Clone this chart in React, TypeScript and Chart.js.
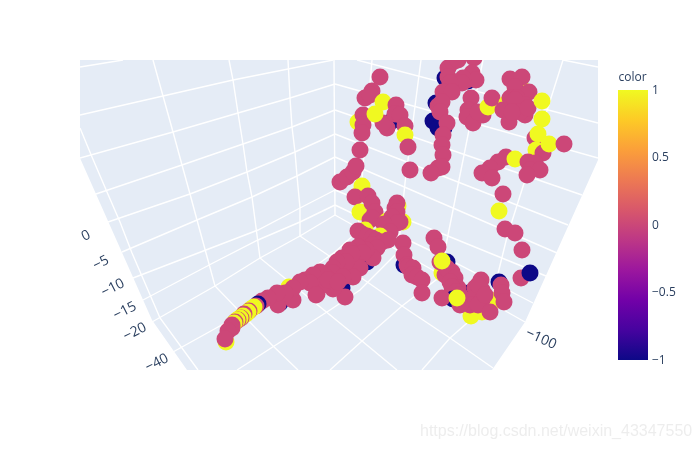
import React, { useEffect, useRef } from "react";
import { Chart, registerables } from "chart.js";

Chart.register(...registerables);

type Pt = [number, number];
type Mark = [number, number, number];

const paneOutline: Pt[] = [[80,60],[598,60],[598,160],[525,322],[492,370],[187,370],[152,320],[80,158],[80,60]];

const leftWallRows: Pt[][] = [
  [[80,67],[123,60]],
  [[80,115],[163,96],[233,80],[333,60]],
  [[80,158],[173,132],[238,113],[290,98],[335,84]],
  [[93,195],[182,165],[243,144],[292,127],[335,110]],
  [[108,222],[190,194],[247,172],[295,152],[335,134]],
  [[122,252],[197,220],[252,197],[297,176],[335,157]],
  [[133,278],[258,230],[300,208],[335,190]],
  [[143,300],[213,263],[258,240],[300,222],[335,205]],
  [[152,322],[215,286],[260,258],[300,236],[335,215]],
];
const rightWallRows: Pt[][] = [
  [[563,60],[598,67]],
  [[357,60],[598,123]],
  [[335,84],[598,158]],
  [[335,110],[582,195]],
  [[335,134],[568,225]],
  [[335,157],[557,253]],
  [[335,190],[546,276]],
  [[335,205],[450,260],[533,303]],
  [[335,215],[525,322]],
];
const leftColumns: Pt[][] = [
  [[80,128],[92,157],[107,192],[120,222],[132,253],[160,318],[198,370]],
  [[153,60],[163,96],[173,132],[182,165],[190,194],[197,220],[215,286],[272,345],[298,370]],
  [[229,60],[233,80],[238,113],[243,144],[247,172],[252,197],[260,258],[330,315],[362,341],[397,370]],
  [[288,60],[290,98],[292,127],[295,152],[297,176],[300,208],[300,236],[360,277],[402,306],[450,338],[493,368]],
  [[334,60],[335,215]],
];
const rightColumns: Pt[][] = [
  [[372,60],[363,167],[358,231],[335,252],[272,297],[173,352]],
  [[421,60],[405,183],[398,252],[360,290],[330,310],[237,370]],
  [[483,60],[447,240],[441,276],[402,306],[362,341],[330,370]],
  [[563,60],[507,237],[491,302],[450,338],[422,370]],
];

// Markers in draw order: [x, y, colour value]
const upperLeftCluster: Mark[] = [
  [380,77,0],[358,122,1],[372,91,0],[365,98,0],[370,95,0],[363,115,0],[363,125,0],[362,133,0],
  [392,121,-1],[387,128,0],[383,123,0],[383,102,1],[375,114,1],[396,105,0],[395,114,0],[400,115,0],
  [405,126,0],[405,135,1],[408,147,0],[360,150,0],[410,170,0],
];
const centreColumn: Mark[] = [
  [445,78,-1],[436,103,-1],[433,121,-1],[438,128,-1],[444,128,-1],[448,68,0],[453,62,0],[458,60,0],
  [448,77,0],[450,83,0],[443,92,0],[452,92,0],[438,106,0],[442,102,0],[440,112,0],[447,123,0],[443,135,0],
  [442,145,0],[443,155,0],[438,168,0],[442,167,0],[431,173,0],
];
const upperMiddle: Mark[] = [
  [474,58,0],[468,81,-1],[467,80,0],[472,73,0],[476,80,0],[463,78,0],[462,83,0],[471,98,0],[468,110,0],[467,117,0],
  [473,123,0],[483,115,0],[478,112,0],[488,107,1],[492,98,0],
];
const upperRightCluster: Mark[] = [
  [507,103,1],[515,92,1],[523,90,1],[510,79,0],[522,77,0],[515,87,0],[529,92,0],[503,110,0],[510,98,0],
  [517,98,0],[525,105,0],[518,108,0],[525,115,0],[509,122,0],[515,100,0],[520,112,0],[512,112,0],[528,108,0],
  [542,101,1],[542,119,1],[535,138,0],
  [538,134,1],[536,150,1],[543,153,0],[549,144,1],[564,144,0],
];
const rightBand: Mark[] = [
  [506,157,0],[498,162,0],[490,168,0],[482,173,0],[492,178,0],[515,159,1],[528,162,0],[535,163,0],
  [530,170,0],[540,170,0],[527,175,0],[503,194,0],[499,211,1],[505,229,0],[515,233,0],[522,250,0],
  [521,278,0],[530,273,-1],
];
const lowerRightCluster: Mark[] = [
  [471,316,1],[482,312,1],[465,300,1],[497,300,1],[499,282,-1],[501,285,0],[502,293,0],[504,302,0],
  [469,293,-1],[481,280,0],[475,288,0],[482,290,0],[473,299,0],[482,300,0],[478,285,0],[470,305,0],[478,305,0],[485,295,0],[490,312,0],
  [442,273,1],[447,262,-1],[434,238,0],
  [438,247,0],[440,262,0],[447,268,0],[452,272,0],[445,275,0],[448,270,0],[455,278,0],[450,282,0],[458,288,0],[452,287,0],[456,292,0],[460,295,0],
  [453,299,-1],[442,298,0],
  [460,305,0],[457,298,1],[442,261,1],
];
const lowerMiddleBranch: Mark[] = [
  [404,265,-1],[403,243,0],[404,255,0],[407,265,0],[408,267,0],[413,268,0],[412,275,0],[417,277,0],[422,280,0],[422,293,0],
];
const junctionCluster: Mark[] = [
  [340,182,0],[347,177,0],[353,172,0],[356,166,0],[362,186,1],
  [358,195,1],[355,197,0],[360,212,1],[368,196,0],[372,203,0],[375,212,0],[370,220,0],[372,218,0],
  [387,221,1],[398,206,1],[397,203,0],[403,222,1],[395,208,0],[397,212,0],[400,222,0],[392,217,0],[397,223,0],[384,224,0],[390,232,0],
  [365,230,1],[380,236,1],[358,231,0],[362,234,0],[367,236,0],[372,238,0],[376,240,0],[382,242,0],[388,240,0],
];
const centreStream: Mark[] = [
  [373,249,-1],[353,265,-1],[367,262,-1],[351,276,-1],[342,288,-1],[334,286,1],
  [372,245,0],[377,248,0],[373,258,0],[366,250,0],[358,247,0],[350,250,0],[342,258,0],[355,257,0],[363,253,0],[348,267,0],
  [360,268,0],[342,273,0],[353,277,0],[352,254,0],[346,262,0],[337,262,0],[333,268,0],[333,273,0],[327,278,0],[320,272,0],[313,275,0],[305,280,0],
  [345,297,0],[317,294,0],[333,289,0],[323,285,0],[343,277,0],[328,280,0],[338,282,0],[310,283,0],
];
const tailChain: Mark[] = [
  [289,287,1],[280,303,-1],[278,305,0],[293,300,0],[316,295,0],[300,282,0],[293,288,0],[285,293,0],[277,293,0],[268,298,0],[262,301,0],
  [258,304,-1],[256,306,0],[254,307,1],[251,309,1],[249,311,0],[248,312,1],[246,314,1],[244,314,0],[243,316,1],[241,318,0],
  [240,318,1],[238,320,0],[237,320,1],[235,322,0],[234,323,1],[232,325,0],[226,342,1],[232,328,0],[228,331,0],[225,339,0],
];
const markGroups: Mark[][] = [
  upperMiddle, upperLeftCluster, centreColumn, upperRightCluster, rightBand,
  lowerRightCluster, lowerMiddleBranch, junctionCluster, centreStream, tailChain,
];

const colorOfValue: Record<string, string> = { "-1": "#0d0887", "0": "#cc4778", "1": "#f0f921" };

const plasmaStops = ["#0d0887","#46039f","#7201a8","#9c179e","#bd3786","#d8576b","#ed7953","#fb9f3a","#fdca26","#f0f921"];
const colorbarValues = [1, 0.5, 0, -0.5, -1];
const colorbarLabels = ["1", "0.5", "0", "\u22120.5", "\u22121"];

const depthAxisLabels = ["0", "\u22125", "\u221210", "\u221215", "\u221220", "\u221240"];
const depthAxisX = [86, 101, 113, 125, 135, 157];
const depthAxisY = [236, 263, 288, 311, 332, 363];
const sideAxisLabels = ["\u2212100"];
const sideAxisX = [541];
const sideAxisY = [339];

const FONT = '"Open Sans", verdana, arial, sans-serif';
const INK = "#2a3f5f";

const overlay = {
  id: "overlay",
  afterDraw(chart: any) {
    const ctx = chart.ctx as CanvasRenderingContext2D;
    ctx.save();
    ctx.fillStyle = INK;
    ctx.font = `14px ${FONT}`;
    ctx.textBaseline = "middle";
    ctx.textAlign = "center";
    depthAxisLabels.forEach((t, i) => {
      ctx.save();
      ctx.translate(depthAxisX[i], depthAxisY[i]);
      ctx.rotate(-0.47);
      ctx.fillText(t, 0, 0);
      ctx.restore();
    });
    sideAxisLabels.forEach((t, i) => {
      ctx.save();
      ctx.translate(sideAxisX[i], sideAxisY[i]);
      ctx.rotate(0.42);
      ctx.fillText(t, 0, 0);
      ctx.restore();
    });
    ctx.font = `12px ${FONT}`;
    const top = 90, bottom = 360, left = 618, width = 30;
    const g = ctx.createLinearGradient(0, bottom, 0, top);
    plasmaStops.forEach((c, i) => g.addColorStop(i / (plasmaStops.length - 1), c));
    ctx.fillStyle = g;
    ctx.fillRect(left, top, width, bottom - top);
    ctx.fillStyle = INK;
    ctx.textAlign = "left";
    colorbarValues.forEach((v, i) => {
      const y = top + ((1 - v) / 2) * (bottom - top);
      ctx.fillText(colorbarLabels[i], 652, y + 0.5);
    });
    ctx.fillText("color", 618.5, 78);
    ctx.fillStyle = "rgba(190,190,190,0.28)";
    ctx.font = '16px "Liberation Sans", Arial, sans-serif';
    ctx.fillText("https://blog.csdn.net/weixin_43347550", 420, 432);
    ctx.restore();
  },
};

const toXY = (pts: Pt[]) => pts.map(([x, y]) => ({ x, y }));

export default function App() {
  const ref = useRef<HTMLCanvasElement>(null);
  useEffect(() => {
    const marks = markGroups.flat();
    const gridLines = [...leftWallRows, ...rightWallRows, ...leftColumns, ...rightColumns];
    const chart = new Chart(ref.current!, {
      type: "scatter",
      data: {
        datasets: [
          {
            data: marks.map(([x, y]) => ({ x, y })),
            showLine: false,
            pointRadius: 8.5,
            pointHoverRadius: 8.5,
            pointBorderWidth: 0,
            pointBackgroundColor: marks.map(([, , v]) => colorOfValue[String(v)]),
            order: 1,
            clip: 0,
          },
          ...gridLines.map((pts) => ({
            data: toXY(pts),
            showLine: true,
            borderColor: "#ffffff",
            borderWidth: 1.4,
            pointRadius: 0,
            tension: 0,
            order: 2,
            clip: 0,
          })),
          {
            data: toXY(paneOutline),
            showLine: true,
            borderWidth: 0,
            borderColor: "#e5ecf6",
            backgroundColor: "#e5ecf6",
            fill: "shape",
            pointRadius: 0,
            order: 3,
            clip: 0,
          },
        ],
      } as any,
      options: {
        responsive: false,
        animation: false,
        events: [],
        layout: { padding: { left: 80, top: 60, right: 102, bottom: 80 } },
        plugins: { legend: { display: false }, tooltip: { enabled: false } },
        scales: {
          x: { type: "linear", min: 80, max: 598, display: false },
          y: { type: "linear", min: 60, max: 370, reverse: true, display: false },
        },
      },
      plugins: [overlay],
    });
    return () => chart.destroy();
  }, []);
  return (
    <canvas
      ref={ref}
      width={700}
      height={450}
      style={{ position: "absolute", left: 0, top: 0, width: 700, height: 450, background: "#fff" }}
    />
  );
}
